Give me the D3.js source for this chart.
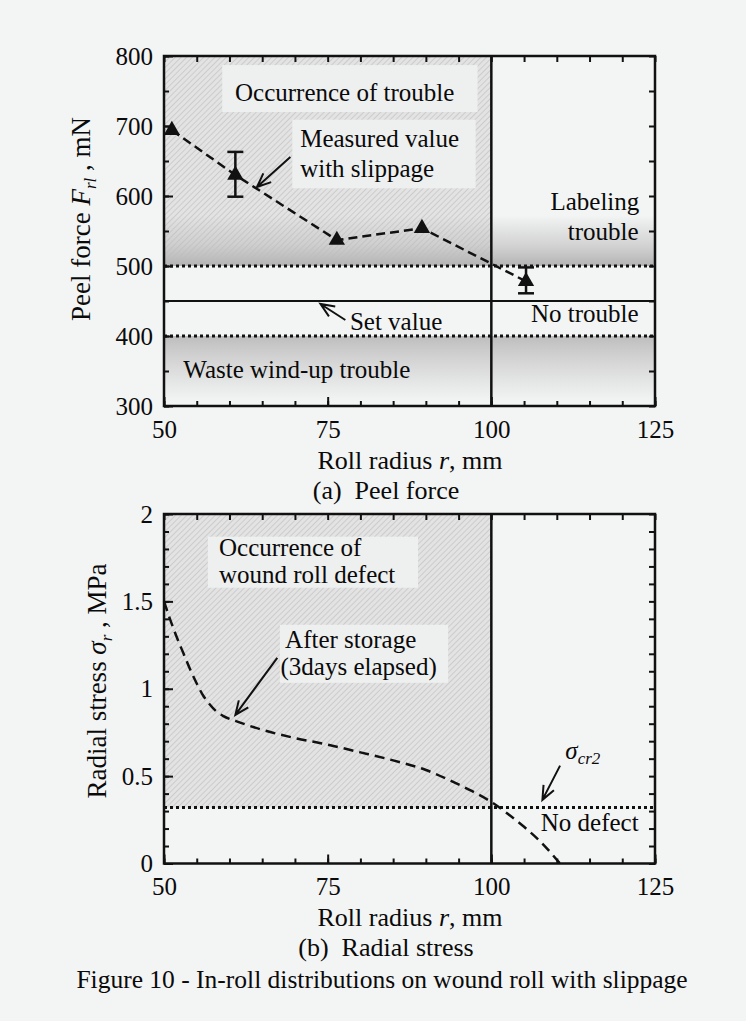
<!DOCTYPE html>
<html>
<head>
<meta charset="utf-8">
<title>Figure 10 - In-roll distributions</title>
<script src="https://cdn.jsdelivr.net/npm/d3@7"></script>
<style>
  body { margin: 0; background: #f3f4f4; }
  svg text { font-family: "Liberation Serif", "Times New Roman", serif; fill: #0a0a0a; white-space: pre; }
</style>
</head>
<body>
<svg id="fig" width="746" height="1021"></svg>
<script>
// (a) peel force, measured value with slippage
const radius = [51.2, 60.9, 76.4, 89.4, 105.3];
const peelForce = [694, 630, 537, 554, 478];
const errLow = [null, 599, null, null, 461];
const errHigh = [null, 663, null, null, 498];

// (b) radial stress after storage (3 days elapsed)
const stressR = [50, 51, 52, 53, 54, 55, 56, 57, 58, 59, 60, 61, 62.5, 65, 70, 75, 80, 85, 90, 94, 97, 100, 102.5, 105, 107.5, 110.5];
const stressVal = [1.5, 1.39, 1.29, 1.2, 1.11, 1.03, 0.96, 0.91, 0.87, 0.845, 0.828, 0.815, 0.795, 0.765, 0.718, 0.68, 0.636, 0.59, 0.535, 0.47, 0.415, 0.352, 0.285, 0.21, 0.125, 0.0];

// ticks
const xTicks = [50, 75, 100, 125];
const peelTicks = [300, 400, 500, 600, 700, 800];
const stressTicks = [0, 0.5, 1, 1.5, 2];

// limits
const labelLimit = 500, wasteLimit = 400, setValue = 450, rLimit = 100, sigmaCr2 = 0.32;

const svg = d3.select("#fig");
const defs = svg.append("defs");

defs.append("pattern").attr("id", "hatch")
  .attr("patternUnits", "userSpaceOnUse").attr("width", 4).attr("height", 4)
  .attr("patternTransform", "rotate(45)")
  .append("line").attr("x1", 0).attr("y1", 0).attr("x2", 0).attr("y2", 4)
  .attr("stroke", "#bcbcbc").attr("stroke-width", 1.2);

const gTop = defs.append("linearGradient").attr("id", "gradLabel")
  .attr("x1", 0).attr("y1", 0).attr("x2", 0).attr("y2", 1);
gTop.append("stop").attr("offset", 0).attr("stop-color", "#c4c4c4").attr("stop-opacity", 0);
gTop.append("stop").attr("offset", 0.55).attr("stop-color", "#c8c8c8").attr("stop-opacity", 0.7);
gTop.append("stop").attr("offset", 1).attr("stop-color", "#b2b2b2").attr("stop-opacity", 1);

const gBot = defs.append("linearGradient").attr("id", "gradWaste")
  .attr("x1", 0).attr("y1", 0).attr("x2", 0).attr("y2", 1);
gBot.append("stop").attr("offset", 0).attr("stop-color", "#bdbdbd").attr("stop-opacity", 1);
gBot.append("stop").attr("offset", 0.35).attr("stop-color", "#cbcbcb").attr("stop-opacity", 0.8);
gBot.append("stop").attr("offset", 1).attr("stop-color", "#d0d0d0").attr("stop-opacity", 0);

const x = d3.scaleLinear().domain([50, 125]).range([164, 655]);
const yA = d3.scaleLinear().domain([300, 800]).range([406, 56]);
const yB = d3.scaleLinear().domain([0, 2]).range([863.5, 514]);

function rectData(g, y, r0, r1, v0, v1, fill) {
  return g.append("rect")
    .attr("x", x(r0)).attr("y", y(v1))
    .attr("width", x(r1) - x(r0)).attr("height", y(v0) - y(v1))
    .attr("fill", fill);
}

function hline(g, y, v, dash, w) {
  g.append("line").attr("x1", x(50)).attr("x2", x(125))
    .attr("y1", y(v)).attr("y2", y(v))
    .attr("stroke", "#111").attr("stroke-width", w)
    .attr("stroke-dasharray", dash);
}

function arrow(g, x1, y1, x2, y2) {
  const a = Math.atan2(y2 - y1, x2 - x1), L = 15, s = 0.4;
  const p = d3.path();
  p.moveTo(x1, y1); p.lineTo(x2, y2);
  p.moveTo(x2 - L * Math.cos(a - s), y2 - L * Math.sin(a - s));
  p.lineTo(x2, y2);
  p.lineTo(x2 - L * Math.cos(a + s), y2 - L * Math.sin(a + s));
  g.append("path").attr("d", p.toString()).attr("fill", "none")
    .attr("stroke", "#111").attr("stroke-width", 2);
}

function label(g, px, py, txt, anchor) {
  return g.append("text").attr("x", px).attr("y", py)
    .attr("font-size", 25).attr("text-anchor", anchor || "start").text(txt);
}

function axes(g, y, yTicks, yMinor, fmt) {
  const [b, t] = y.range();
  const xMinor = d3.range(50, 126, 5);
  const style = s => s.call(a => a.select(".domain").remove())
    .call(a => a.selectAll("line").attr("stroke", "#111").attr("stroke-width", 2))
    .attr("font-size", 25).attr("font-family", "Liberation Serif, Times New Roman, serif");

  g.append("g").attr("transform", `translate(0,${b})`)
    .call(d3.axisBottom(x).tickValues(xMinor).tickSize(-5).tickFormat("")).call(style);
  g.append("g").attr("transform", `translate(0,${b})`)
    .call(d3.axisBottom(x).tickValues(xTicks).tickSize(-9).tickPadding(14)).call(style);
  g.append("g").attr("transform", `translate(0,${t})`)
    .call(d3.axisTop(x).tickValues(xMinor).tickSize(-6).tickFormat("")).call(style);

  g.append("g").attr("transform", `translate(${x(50)},0)`)
    .call(d3.axisLeft(y).tickValues(yMinor).tickSize(-5).tickFormat("")).call(style);
  g.append("g").attr("transform", `translate(${x(50)},0)`)
    .call(d3.axisLeft(y).tickValues(yTicks).tickSize(-9).tickPadding(11).tickFormat(fmt)).call(style);
  g.append("g").attr("transform", `translate(${x(125)},0)`)
    .call(d3.axisRight(y).tickValues(yMinor).tickSize(-6).tickFormat("")).call(style);

  g.append("rect").attr("x", x(50)).attr("y", t)
    .attr("width", x(125) - x(50)).attr("height", b - t)
    .attr("fill", "none").attr("stroke", "#111").attr("stroke-width", 2.5);
}

// ---------- (a) Peel force ----------
const a = svg.append("g");
rectData(a, yA, 50, rLimit, labelLimit, 800, "#e3e3e3");
rectData(a, yA, 50, 125, labelLimit, 572, "url(#gradLabel)");
rectData(a, yA, 50, 125, 305, wasteLimit, "url(#gradWaste)");
rectData(a, yA, 50, rLimit, labelLimit, 800, "url(#hatch)");
rectData(a, yA, 58.9, 97.9, 720, 787, "#eeefef");
rectData(a, yA, 69.6, 97.6, 611, 709, "#eeefef");

hline(a, yA, labelLimit, "3,3", 3);
hline(a, yA, wasteLimit, "3,3", 3);
hline(a, yA, setValue, null, 2);
a.append("line").attr("x1", x(rLimit)).attr("x2", x(rLimit))
  .attr("y1", yA(300)).attr("y2", yA(800)).attr("stroke", "#111").attr("stroke-width", 2.5);

const peel = radius.map((r, i) => ({ r, f: peelForce[i], lo: errLow[i], hi: errHigh[i] }));
a.append("path").datum(peel)
  .attr("d", d3.line().x(d => x(d.r)).y(d => yA(d.f)))
  .attr("fill", "none").attr("stroke", "#111").attr("stroke-width", 2.5)
  .attr("stroke-dasharray", "9,5");

const eb = a.selectAll("g.err").data(peel.filter(d => d.lo !== null)).join("g");
eb.append("line").attr("x1", d => x(d.r)).attr("x2", d => x(d.r))
  .attr("y1", d => yA(d.lo)).attr("y2", d => yA(d.hi));
eb.append("line").attr("x1", d => x(d.r) - 8).attr("x2", d => x(d.r) + 8)
  .attr("y1", d => yA(d.lo)).attr("y2", d => yA(d.lo));
eb.append("line").attr("x1", d => x(d.r) - 8).attr("x2", d => x(d.r) + 8)
  .attr("y1", d => yA(d.hi)).attr("y2", d => yA(d.hi));
eb.selectAll("line").attr("stroke", "#111").attr("stroke-width", 2.5);

a.selectAll("path.tri").data(peel).join("path")
  .attr("transform", d => `translate(${x(d.r)},${yA(d.f)})`)
  .attr("d", d3.symbol(d3.symbolTriangle, 115))
  .attr("fill", "#111");

label(a, x(77.6), yA(735.7), "Occurrence of trouble", "middle");
label(a, x(70.8), yA(670.4), "Measured value");
label(a, x(70.8), yA(627), "with slippage");
arrow(a, x(69.3), yA(655.7), x(64.2), yA(612.9));
label(a, x(78.4), yA(408.6), "Set value");
arrow(a, x(77.7), yA(422.9), x(73.9), yA(445.7));
label(a, x(122.5), yA(420.4), "No trouble", "end");
label(a, x(122.6), yA(580), "Labeling", "end");
label(a, x(122.5), yA(537), "trouble", "end");
label(a, x(52.95), yA(340), "Waste wind-up trouble");

axes(a, yA, peelTicks, d3.range(300, 801, 50), d3.format("d"));

const tA = a.append("text").attr("transform", "translate(90,219) rotate(-90)")
  .attr("text-anchor", "middle").attr("font-size", 27);
tA.append("tspan").text("Peel force ");
tA.append("tspan").attr("font-style", "italic").text("F");
tA.append("tspan").attr("font-style", "italic").attr("font-size", 17).attr("dy", 6).text("rl");
tA.append("tspan").attr("dy", -6).text(" , mN");

const xtA = a.append("text").attr("x", 410).attr("y", 469).attr("text-anchor", "middle").attr("font-size", 26);
xtA.append("tspan").text("Roll radius ");
xtA.append("tspan").attr("font-style", "italic").text("r");
xtA.append("tspan").text(", mm");
a.append("text").attr("x", 386).attr("y", 499).attr("text-anchor", "middle")
  .attr("font-size", 26).text("(a)  Peel force");

// ---------- (b) Radial stress ----------
const b = svg.append("g");
rectData(b, yB, 50, rLimit, sigmaCr2, 2, "#e3e3e3");
rectData(b, yB, 50, rLimit, sigmaCr2, 2, "url(#hatch)");
rectData(b, yB, 56.7, 88.8, 1.578, 1.87, "#eeefef");
rectData(b, yB, 67.7, 93.4, 1.034, 1.366, "#eeefef");

hline(b, yB, sigmaCr2, "3,3", 3);
b.append("line").attr("x1", x(rLimit)).attr("x2", x(rLimit))
  .attr("y1", yB(0)).attr("y2", yB(2)).attr("stroke", "#111").attr("stroke-width", 2.5);

const stress = stressR.map((r, i) => ({ r, s: stressVal[i] }));
b.append("path").datum(stress)
  .attr("d", d3.line().x(d => x(d.r)).y(d => yB(d.s)).curve(d3.curveMonotoneX))
  .attr("fill", "none").attr("stroke", "#111").attr("stroke-width", 2.5)
  .attr("stroke-dasharray", "10,6");

label(b, x(58.4), yB(1.76), "Occurrence of");
label(b, x(58.4), yB(1.605), "wound roll defect");
label(b, x(68.5), yB(1.235), "After storage");
label(b, x(67.8), yB(1.08), "(3days elapsed)");
arrow(b, x(67.3), yB(1.177), x(60.9), yB(0.85));
const sc = b.append("text").attr("x", x(111.3)).attr("y", yB(0.6)).attr("font-size", 25);
sc.append("tspan").attr("font-style", "italic").text("σ");
sc.append("tspan").attr("font-style", "italic").attr("font-size", 17).attr("dy", 5).text("cr2");
arrow(b, x(110.5), yB(0.56), x(107.8), yB(0.364));
label(b, x(122.5), yB(0.188), "No defect", "end");

axes(b, yB, stressTicks, d3.range(0, 2.001, 0.1), d3.format("~g"));

const tB = b.append("text").attr("transform", "translate(106,681) rotate(-90)")
  .attr("text-anchor", "middle").attr("font-size", 27);
tB.append("tspan").text("Radial stress ");
tB.append("tspan").attr("font-style", "italic").text("σ");
tB.append("tspan").attr("font-style", "italic").attr("font-size", 17).attr("dy", 6).text("r");
tB.append("tspan").attr("dy", -6).text(" , MPa");

const xtB = b.append("text").attr("x", 410).attr("y", 926).attr("text-anchor", "middle").attr("font-size", 26);
xtB.append("tspan").text("Roll radius ");
xtB.append("tspan").attr("font-style", "italic").text("r");
xtB.append("tspan").text(", mm");
b.append("text").attr("x", 386).attr("y", 956).attr("text-anchor", "middle")
  .attr("font-size", 26).text("(b)  Radial stress");

svg.append("text").attr("x", 382).attr("y", 988).attr("text-anchor", "middle")
  .attr("font-size", 25.5).text("Figure 10 - In-roll distributions on wound roll with slippage");
</script>
</body>
</html>
